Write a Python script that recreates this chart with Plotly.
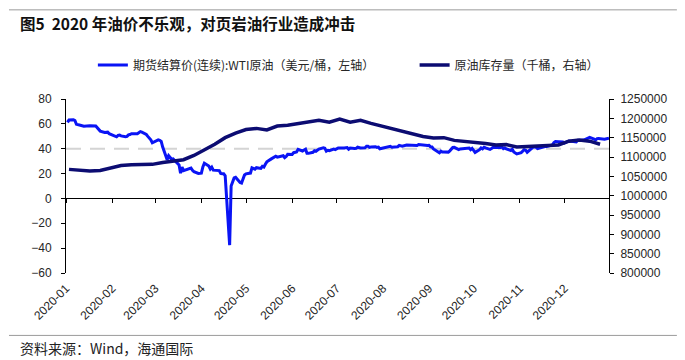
import plotly.graph_objects as go

# ---------------- data ----------------
wti_dates = [
    "2020-01-02", "2020-01-03", "2020-01-06", "2020-01-07", "2020-01-08", "2020-01-09", "2020-01-10",
    "2020-01-13", "2020-01-14", "2020-01-15", "2020-01-16", "2020-01-17", "2020-01-21", "2020-01-22",
    "2020-01-23", "2020-01-24", "2020-01-27", "2020-01-28", "2020-01-29", "2020-01-30", "2020-01-31",
    "2020-02-03", "2020-02-04", "2020-02-05", "2020-02-06", "2020-02-07", "2020-02-10", "2020-02-11",
    "2020-02-12", "2020-02-13", "2020-02-14", "2020-02-18", "2020-02-19", "2020-02-20", "2020-02-21",
    "2020-02-24", "2020-02-25", "2020-02-26", "2020-02-27", "2020-02-28",
    "2020-03-02", "2020-03-03", "2020-03-04", "2020-03-05", "2020-03-06", "2020-03-09", "2020-03-10",
    "2020-03-11", "2020-03-12", "2020-03-13", "2020-03-16", "2020-03-17", "2020-03-18", "2020-03-19",
    "2020-03-20", "2020-03-23", "2020-03-24", "2020-03-25", "2020-03-26", "2020-03-27", "2020-03-30",
    "2020-03-31",
    "2020-04-01", "2020-04-02", "2020-04-03", "2020-04-06", "2020-04-07", "2020-04-08", "2020-04-09",
    "2020-04-13", "2020-04-14", "2020-04-15", "2020-04-16", "2020-04-17", "2020-04-20", "2020-04-21",
    "2020-04-22", "2020-04-23", "2020-04-24", "2020-04-27", "2020-04-28", "2020-04-29", "2020-04-30",
    "2020-05-01", "2020-05-04", "2020-05-05", "2020-05-06", "2020-05-07", "2020-05-08", "2020-05-11",
    "2020-05-12", "2020-05-13", "2020-05-14", "2020-05-15", "2020-05-18", "2020-05-19", "2020-05-20",
    "2020-05-21", "2020-05-22", "2020-05-26", "2020-05-27", "2020-05-28", "2020-05-29",
    "2020-06-01", "2020-06-02", "2020-06-03", "2020-06-04", "2020-06-05", "2020-06-08", "2020-06-09",
    "2020-06-10", "2020-06-11", "2020-06-12", "2020-06-15", "2020-06-16", "2020-06-17", "2020-06-18",
    "2020-06-19", "2020-06-22", "2020-06-23", "2020-06-24", "2020-06-25", "2020-06-26", "2020-06-29",
    "2020-06-30",
    "2020-07-01", "2020-07-02", "2020-07-06", "2020-07-07", "2020-07-08", "2020-07-09", "2020-07-10",
    "2020-07-13", "2020-07-14", "2020-07-15", "2020-07-16", "2020-07-17", "2020-07-20", "2020-07-21",
    "2020-07-22", "2020-07-23", "2020-07-24", "2020-07-27", "2020-07-28", "2020-07-29", "2020-07-30",
    "2020-07-31",
    "2020-08-03", "2020-08-04", "2020-08-05", "2020-08-06", "2020-08-07", "2020-08-10", "2020-08-11",
    "2020-08-12", "2020-08-13", "2020-08-14", "2020-08-17", "2020-08-18", "2020-08-19", "2020-08-20",
    "2020-08-21", "2020-08-24", "2020-08-25", "2020-08-26", "2020-08-27", "2020-08-28", "2020-08-31",
    "2020-09-01", "2020-09-02", "2020-09-03", "2020-09-04", "2020-09-08", "2020-09-09", "2020-09-10",
    "2020-09-11", "2020-09-14", "2020-09-15", "2020-09-16", "2020-09-17", "2020-09-18", "2020-09-21",
    "2020-09-22", "2020-09-23", "2020-09-24", "2020-09-25", "2020-09-28", "2020-09-29", "2020-09-30",
    "2020-10-01", "2020-10-02", "2020-10-05", "2020-10-06", "2020-10-07", "2020-10-08", "2020-10-09",
    "2020-10-12", "2020-10-13", "2020-10-14", "2020-10-15", "2020-10-16", "2020-10-19", "2020-10-20",
    "2020-10-21", "2020-10-22", "2020-10-23", "2020-10-26", "2020-10-27", "2020-10-28", "2020-10-29",
    "2020-10-30",
    "2020-11-02", "2020-11-03", "2020-11-04", "2020-11-05", "2020-11-06", "2020-11-09", "2020-11-10",
    "2020-11-11", "2020-11-12", "2020-11-13", "2020-11-16", "2020-11-17", "2020-11-18", "2020-11-19",
    "2020-11-20", "2020-11-23", "2020-11-24", "2020-11-25", "2020-11-27", "2020-11-30",
    "2020-12-01", "2020-12-02", "2020-12-03", "2020-12-04", "2020-12-07", "2020-12-08", "2020-12-09",
    "2020-12-10", "2020-12-11", "2020-12-14", "2020-12-15", "2020-12-16", "2020-12-17", "2020-12-18",
    "2020-12-21", "2020-12-22", "2020-12-23", "2020-12-24", "2020-12-28", "2020-12-29", "2020-12-30",
    "2020-12-31",
]

wti_price = [
    61.18, 63.05, 63.27, 62.70, 59.61, 59.56, 59.04,
    58.08, 58.23, 57.81, 58.52, 58.54, 58.34, 56.74,
    55.59, 54.19, 53.14, 53.48, 53.33, 52.14, 51.56,
    50.11, 49.61, 50.75, 50.95, 50.32, 49.57, 49.94,
    51.17, 51.42, 52.05, 52.05, 53.29, 53.78, 53.38,
    51.43, 49.90, 48.73, 47.09, 44.76,
    46.75, 47.18, 46.78, 45.90, 41.28, 31.13, 34.36,
    32.98, 31.50, 31.73, 28.70, 26.95, 20.37, 25.22,
    22.43, 23.36, 24.01, 24.49, 22.60, 21.51, 20.09,
    20.48,
    20.31, 25.32, 28.34, 26.08, 23.63, 25.09, 22.76,
    22.41, 20.11, 19.87, 19.87, 18.27, -37.63, 10.01,
    13.78, 16.50, 16.94, 12.78, 12.34, 15.06, 18.84,
    19.78, 20.39, 24.56, 23.99, 23.55, 24.74, 24.14,
    25.78, 25.29, 27.56, 29.43, 31.82, 32.50, 33.49,
    33.92, 33.25, 34.35, 32.81, 33.71, 35.49,
    35.44, 36.81, 37.29, 37.41, 39.55, 38.19, 38.94,
    39.60, 36.34, 36.26, 37.12, 38.38, 37.96, 38.84,
    39.75, 40.73, 40.37, 38.01, 38.72, 38.49, 39.70,
    39.27,
    39.82, 40.65, 40.63, 40.62, 40.90, 39.62, 40.55,
    40.10, 40.29, 41.20, 40.75, 40.59, 40.81, 41.96,
    41.90, 41.07, 41.29, 41.60, 41.04, 41.27, 39.92,
    40.27,
    41.01, 41.70, 42.19, 41.95, 41.22, 41.94, 41.61,
    42.67, 42.24, 42.01, 42.89, 42.89, 42.93, 42.82,
    42.34, 42.62, 43.35, 43.39, 43.04, 42.97, 42.61,
    42.76, 41.51, 41.37, 39.77, 36.76, 38.05, 37.30,
    37.33, 37.26, 38.28, 40.16, 40.97, 41.11, 39.31,
    39.80, 39.93, 40.31, 40.25, 40.60, 39.29, 40.22,
    38.72, 37.05, 39.22, 40.67, 39.95, 41.19, 40.60,
    39.43, 40.20, 41.04, 40.96, 40.88, 41.06, 41.46,
    40.03, 40.64, 39.85, 38.56, 39.57, 37.39, 36.17,
    35.79,
    36.81, 37.66, 39.15, 38.79, 37.14, 40.29, 41.36,
    41.45, 41.12, 40.13, 41.34, 41.43, 41.82, 41.74,
    42.15, 43.06, 44.91, 45.71, 45.53, 45.34,
    44.55, 45.28, 45.64, 46.26, 45.76, 45.60, 45.52,
    46.78, 46.57, 46.99, 47.62, 47.82, 48.36, 49.10,
    47.74, 47.02, 48.12, 48.23, 47.62, 48.00, 48.40,
    48.52,
]

inv_dates = [
    "2020-01-03", "2020-01-10", "2020-01-17", "2020-01-24", "2020-01-31",
    "2020-02-07", "2020-02-14", "2020-02-21", "2020-02-28",
    "2020-03-06", "2020-03-13", "2020-03-20", "2020-03-27",
    "2020-04-03", "2020-04-10", "2020-04-17", "2020-04-24",
    "2020-05-01", "2020-05-08", "2020-05-15", "2020-05-22", "2020-05-29",
    "2020-06-05", "2020-06-12", "2020-06-19", "2020-06-26",
    "2020-07-03", "2020-07-10", "2020-07-17", "2020-07-24", "2020-07-31",
    "2020-08-07", "2020-08-14", "2020-08-21", "2020-08-28",
    "2020-09-04", "2020-09-11", "2020-09-18", "2020-09-25",
    "2020-10-02", "2020-10-09", "2020-10-16", "2020-10-23", "2020-10-30",
    "2020-11-06", "2020-11-13", "2020-11-20", "2020-11-27",
    "2020-12-04", "2020-12-11", "2020-12-18", "2020-12-25",
]

inv_stock = [
    1068000, 1066000, 1063500, 1065000, 1071000,
    1078000, 1080000, 1080500, 1081000,
    1086000, 1089000, 1093000, 1104000,
    1118000, 1133000, 1150000, 1162000,
    1171000, 1174000, 1170000, 1180000, 1182000,
    1186000, 1191000, 1195000, 1190000,
    1198000, 1190000, 1195000, 1187000, 1180000,
    1173000, 1167000, 1161000, 1153000,
    1149000, 1150000, 1143000, 1141000,
    1138000, 1135000, 1131000, 1132000, 1126000,
    1127000, 1129000, 1129000, 1131000,
    1141000, 1144000, 1141000, 1133000,
]

month_ticks = ["2020-%02d-01" % m for m in range(1, 13)]
month_labels = ["2020-%02d" % m for m in range(1, 13)]

name_wti = "期货结算价(连续):WTI原油（美元/桶，左轴）"
name_inv = "原油库存量（千桶，右轴）"
title_text = "<b>图5  2020 年油价不乐观，对页岩油行业造成冲击</b>"
source_text = "资料来源：Wind，海通国际"

left_range = [-60, 80]
right_range = [800000, 1250000]
x_range = ["2020-01-01", "2020-12-31"]

# ---------------- figure ----------------
FONT = "Liberation Sans, Arial, Noto Sans CJK SC, sans-serif"
CJK = "Noto Sans CJK SC, Liberation Sans, sans-serif"
TXT = "#262626"

# page body has an 8px margin: the figure is sized/offset to compensate
PLOT_H = 173.7

fig = go.Figure()

fig.add_trace(go.Scatter(
    x=wti_dates, y=wti_price, name=name_wti, mode="lines",
    line=dict(color="#0a14f5", width=3), yaxis="y", legend="legend",
))
fig.add_trace(go.Scatter(
    x=inv_dates, y=inv_stock, name=name_inv, mode="lines",
    line=dict(color="#0c0c72", width=3.5), yaxis="y2", legend="legend2",
))
# carrier for the tick-only axis drawn on the zero line
fig.add_trace(go.Scatter(x=[], y=[], xaxis="x2", yaxis="y", showlegend=False, hoverinfo="skip"))

zero_pos = (0 - left_range[0]) / (left_range[1] - left_range[0])

fig.update_layout(
    width=677, height=352,
    margin=dict(l=58, r=75.7, t=91, b=87.3, autoexpand=False),
    paper_bgcolor="white", plot_bgcolor="white",
    font=dict(family=FONT, size=12, color=TXT),
    showlegend=True,
    xaxis=dict(
        type="date", range=x_range, tickvals=month_ticks, ticktext=month_labels,
        tickangle=-45, showline=False, ticks="", showgrid=False, zeroline=False,
        tickfont=dict(family=FONT, size=12, color=TXT), ticklabelstandoff=5,
    ),
    xaxis2=dict(
        type="date", range=x_range, overlaying="x", anchor="free", position=zero_pos,
        side="bottom", tickvals=month_ticks, showticklabels=False, ticks="outside",
        ticklen=4, tickcolor="black", tickwidth=1, showline=False, showgrid=False, zeroline=False,
    ),
    yaxis=dict(
        range=left_range, dtick=20, tick0=0, showline=True, linecolor="black", linewidth=1,
        ticks="outside", ticklen=4, tickcolor="black", showgrid=False,
        zeroline=True, zerolinecolor="black", zerolinewidth=1,
        tickfont=dict(family=FONT, size=12, color=TXT), ticklabelstandoff=7,
    ),
    yaxis2=dict(
        range=right_range, dtick=50000, tick0=800000, overlaying="y", side="right",
        showline=True, linecolor="black", linewidth=1, ticks="outside", ticklen=4,
        tickcolor="black", showgrid=False, zeroline=False, tickformat="d",
        tickfont=dict(family=FONT, size=12, color=TXT), ticklabelstandoff=4,
    ),
    legend=dict(
        orientation="h", x=0.0495, xanchor="left", y=1.196, yanchor="middle",
        font=dict(family=CJK, size=12, color=TXT), bgcolor="rgba(0,0,0,0)",
    ),
    legend2=dict(
        orientation="h", x=0.642, xanchor="left", y=1.196, yanchor="middle",
        font=dict(family=CJK, size=12, color=TXT), bgcolor="rgba(0,0,0,0)",
    ),
    shapes=[
        dict(type="line", xref="paper", yref="y", x0=0, x1=1, y0=40, y1=40,
             line=dict(color="#d4d4d4", width=2, dash="15px,9px"), layer="below"),
        dict(type="line", xref="paper", yref="paper", x0=-0.105, x1=1.125,
             y0=1 + (99 - 10) / PLOT_H, y1=1 + (99 - 10) / PLOT_H,
             line=dict(color="#9a9a9a", width=1)),
        dict(type="line", xref="paper", yref="paper", x0=-0.105, x1=1.125,
             y0=(272.7 - 335) / PLOT_H, y1=(272.7 - 335) / PLOT_H,
             line=dict(color="#9a9a9a", width=1)),
    ],
    annotations=[
        dict(text=title_text, xref="paper", yref="paper", x=(18 - 66) / 543, y=1 + (99 - 23) / PLOT_H,
             xanchor="left", yanchor="middle", showarrow=False,
             font=dict(family=CJK, size=15.5, color="#111")),
        dict(text=source_text, xref="paper", yref="paper", x=(18 - 66) / 543, y=(272.7 - 348) / PLOT_H,
             xanchor="left", yanchor="middle", showarrow=False,
             font=dict(family=CJK, size=14, color="#222")),
    ],
)

fig.write_html("out.html")
